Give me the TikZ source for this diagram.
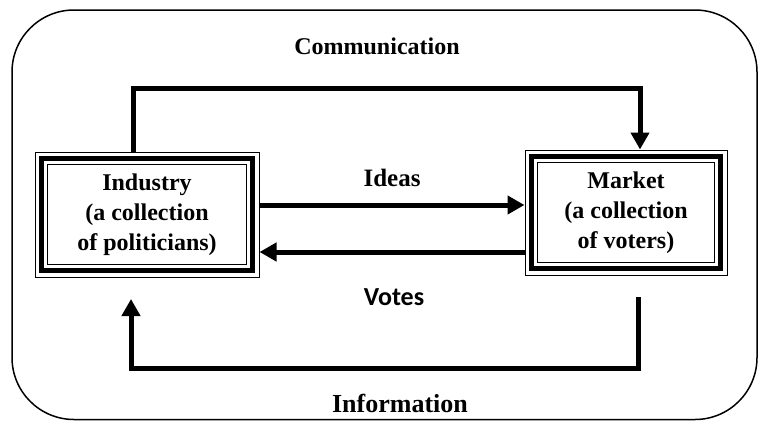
\documentclass[tikz,border=0pt]{standalone}
\usepackage{fontspec}
\setmainfont{Liberation Serif}
\newfontfamily\votesfont{Carlito}
\usetikzlibrary{arrows.meta}
\tikzset{
  lbl/.style={font=\bfseries\fontsize{24}{26}\selectfont, inner sep=0pt},
  boxtext/.style={font=\bfseries\fontsize{24}{30}\selectfont, align=center, draw=black, line width=1pt, inner sep=0pt},
  flow/.style={line width=5pt, -{Triangle[length=17pt,width=18pt]}},
  thickborder/.style={line width=4.5pt},
  thinborder/.style={line width=1pt}
}
\begin{document}
\begin{tikzpicture}[x=1pt,y=-1pt]
\useasboundingbox (0,0) rectangle (758,421);
% frame
\draw[line width=1.5pt, rounded corners=62pt] (12,10) rectangle (757,419.5);
% boxes
\node[boxtext, minimum width=224pt, minimum height=125pt] (ind) at (147,214.5) {Industry\\(a collection\\of politicians)};
\node[boxtext, minimum width=202pt, minimum height=125pt] (mkt) at (626,212.5) {Market\\(a collection\\of voters)};
\foreach \n in {ind,mkt}{
  \draw[thickborder] ([shift={(7,7)}]\n.north west) rectangle ([shift={(-7,-7)}]\n.south east);
  \draw[thinborder] ([shift={(13,13)}]\n.north west) rectangle ([shift={(-13,-13)}]\n.south east);
}
% labels
\node[lbl] (comm) at (377,46) {Communication};
\node[lbl, font=\bfseries\fontsize{25}{26}\selectfont] (ideas) at (392,178) {Ideas};
\node[lbl, font=\votesfont\bfseries\fontsize{26}{28}\selectfont] (votes) at (394,297) {Votes};
\node[lbl, font=\bfseries\fontsize{26}{28}\selectfont] (info) at (400,403) {Information};
% connectors
\coordinate (c1) at (133,88);
\coordinate (c2) at (640,88);
\draw[flow] (ind.north -| c1) -- (c1) -- (c2) -- (mkt.north -| c2);
\coordinate (iy) at (0,205);
\coordinate (vy) at (0,252);
\draw[flow] (ind.east |- iy) -- (mkt.west |- iy);
\draw[flow] (mkt.west |- vy) -- (ind.east |- vy);
\coordinate (infoA) at (638,297);
\coordinate (infoC) at (638,368);
\coordinate (infoD) at (131,368);
\coordinate (infoB) at (131,299);
\draw[flow] (infoA) -- (infoC) -- (infoD) -- (infoB);
\end{tikzpicture}
\end{document}
